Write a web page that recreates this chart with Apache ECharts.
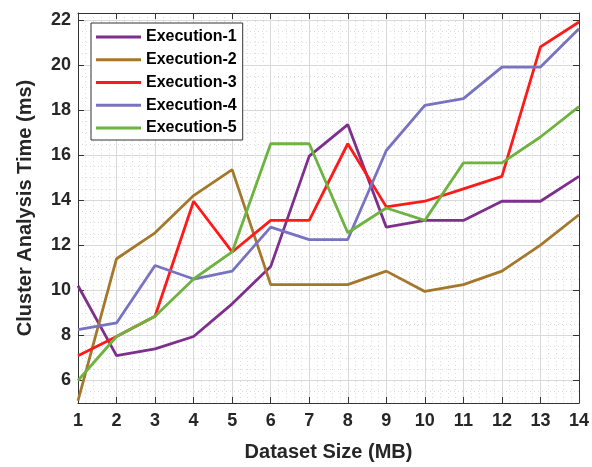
<!DOCTYPE html>
<html>
<head>
<meta charset="utf-8">
<script src="https://cdn.jsdelivr.net/npm/echarts@6/dist/echarts.min.js"></script>
<style>
  html, body { margin: 0; padding: 0; background: #fff; }
  #chart { width: 592px; height: 467px; }
</style>
</head>
<body>
<div id="chart"></div>
<script>
// Dataset sizes (MB) on the x axis
const sizes = [1, 2, 3, 4, 5, 6, 7, 8, 9, 10, 11, 12, 13, 14];

// Cluster analysis time (ms) for each execution run
const exec1 = [10.2, 7.1, 7.4, 7.95, 9.4, 11.05, 15.95, 17.35, 12.8, 13.1, 13.1, 13.95, 13.95, 15.05];
const exec2 = [5.1, 11.4, 12.55, 14.2, 15.35, 10.25, 10.25, 10.25, 10.85, 9.95, 10.25, 10.85, 12.0, 13.35];
const exec3 = [7.1, 7.95, 8.85, 13.95, 11.7, 13.1, 13.1, 16.5, 13.7, 13.95, 14.5, 15.05, 20.8, 21.9];
const exec4 = [8.25, 8.55, 11.1, 10.5, 10.85, 12.8, 12.25, 12.25, 16.2, 18.2, 18.5, 19.9, 19.9, 21.6];
const exec5 = [6.0, 7.95, 8.85, 10.5, 11.7, 16.5, 16.5, 12.55, 13.65, 13.1, 15.65, 15.65, 16.8, 18.15];

const seriesNames = ['Execution-1', 'Execution-2', 'Execution-3', 'Execution-4', 'Execution-5'];
const seriesData = [exec1, exec2, exec3, exec4, exec5];
const colors = ['#7E2F8E', '#A5772B', '#FF1A1A', '#7773C2', '#6DB33F'];

// Labelled y ticks
const yTicks = [6, 8, 10, 12, 14, 16, 18, 20, 22];

const textColor = '#262626';
const axisColor = '#333333';
const font = 'Liberation Sans, Arial, sans-serif';

const chart = echarts.init(document.getElementById('chart'), null, { renderer: 'canvas' });

const yBase = { type: 'value', min: 5, max: 22.3, interval: 0.5 };
const xBase = { type: 'value', min: 1, max: 14, interval: 1 };

chart.setOption({
  animation: false,
  backgroundColor: '#ffffff',
  color: colors,
  grid: { left: 78, right: 10, top: 13, bottom: 61, containLabel: false },
  legend: {
    orient: 'vertical',
    left: 91,
    top: 23,
    padding: [5, 6, 3, 5],
    itemWidth: 45,
    itemHeight: 3,
    itemGap: 4.75,
    icon: 'rect',
    backgroundColor: '#ffffff',
    borderColor: axisColor,
    borderWidth: 1,
    borderRadius: 0,
    textStyle: {
      fontFamily: font, fontWeight: 'bold', fontSize: 16,
      color: '#000', lineHeight: 18, padding: [0, 0, 0, 0]
    },
    data: seriesNames
  },
  xAxis: [
    Object.assign({}, xBase, {
      position: 'bottom',
      name: 'Dataset Size (MB)',
      nameLocation: 'middle',
      nameGap: 39,
      nameTextStyle: { fontFamily: font, fontWeight: 'bold', fontSize: 20, color: textColor },
      axisLine: { show: true, onZero: false, lineStyle: { color: axisColor, width: 1 } },
      axisTick: { show: true, inside: true, length: 6, lineStyle: { color: axisColor } },
      axisLabel: { fontFamily: font, fontWeight: 'bold', fontSize: 18, color: textColor, margin: 9 },
      splitLine: { show: true, lineStyle: { color: '#d9d9d9', width: 1 } },
      minorTick: { show: false, splitNumber: 5 },
      minorSplitLine: { show: true, lineStyle: { color: '#dcdcdc', width: 1, type: [1, 3] } }
    }),
    Object.assign({}, xBase, {
      position: 'top',
      axisLine: { show: true, onZero: false, lineStyle: { color: axisColor, width: 1 } },
      axisTick: { show: true, inside: true, length: 6, lineStyle: { color: axisColor } },
      axisLabel: { show: false },
      splitLine: { show: false }
    })
  ],
  yAxis: [
    Object.assign({}, yBase, {
      position: 'left',
      name: 'Cluster Analysis Time (ms)',
      nameLocation: 'middle',
      nameGap: 43,
      nameTextStyle: { fontFamily: font, fontWeight: 'bold', fontSize: 20, color: textColor },
      axisLine: { show: true, onZero: false, lineStyle: { color: axisColor, width: 1 } },
      axisTick: { show: true, inside: true, length: 6, customValues: yTicks, lineStyle: { color: axisColor } },
      axisLabel: { customValues: yTicks, fontFamily: font, fontWeight: 'bold', fontSize: 18, color: textColor, margin: 7 },
      splitLine: { show: true, lineStyle: { color: '#d9d9d9', width: 1 } }
    }),
    Object.assign({}, yBase, {
      position: 'right',
      axisLine: { show: true, onZero: false, lineStyle: { color: axisColor, width: 1 } },
      axisTick: { show: true, inside: true, length: 6, customValues: yTicks, lineStyle: { color: axisColor } },
      axisLabel: { show: false },
      splitLine: { show: false }
    }),
    Object.assign({}, yBase, {
      position: 'left',
      axisLine: { show: false },
      axisTick: { show: false },
      axisLabel: { show: false },
      splitLine: { show: true, lineStyle: { color: '#dcdcdc', width: 1, type: [1, 3] } }
    })
  ],
  series: seriesNames.map((name, i) => ({
    name: name,
    type: 'line',
    xAxisIndex: 0,
    yAxisIndex: 0,
    data: sizes.map((s, j) => [s, seriesData[i][j]]),
    symbol: 'none',
    lineStyle: { width: 2.8, color: colors[i] },
    itemStyle: { color: colors[i] },
    z: 3
  }))
});
</script>
</body>
</html>
